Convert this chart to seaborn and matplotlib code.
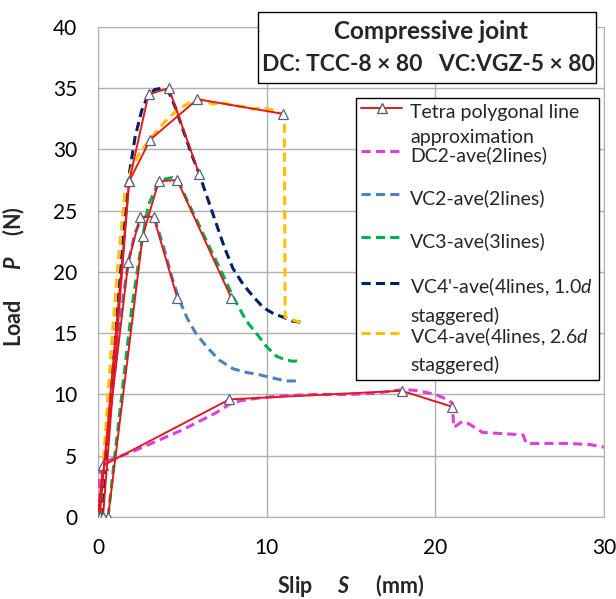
import pandas as pd
import matplotlib.pyplot as plt
import seaborn as sns
from matplotlib.lines import Line2D
from matplotlib.patches import Rectangle

# averaged load-slip curves (slip mm, load N)
dc2_s = [0, 0.05, 0.1, 0.3, 0.6, 1.0, 2.0, 3.0, 4.0, 5.0, 6.0, 7.0, 7.8, 8.5, 9.5, 11.0,
         13.0, 15.0, 16.5, 17.5, 18.2, 19.0, 20.0, 20.7, 21.0, 21.1, 21.6, 22.0, 22.8,
         24.0, 25.2, 25.4, 26.5, 28.0, 29.2, 30.0]
dc2_p = [0, 2.0, 3.5, 4.2, 4.6, 4.8, 5.3, 5.9, 6.5, 7.1, 7.8, 8.5, 9.2, 9.5, 9.7, 9.9,
         10.0, 10.0, 10.1, 10.3, 10.4, 10.3, 10.0, 9.6, 9.3, 7.3, 7.8, 7.6, 6.9,
         6.8, 6.7, 6.0, 6.0, 6.0, 5.9, 5.7]

vc2_s = [0, 0.5, 1.0, 1.5, 1.8, 2.2, 2.6, 3.0, 3.4, 3.9, 4.4, 4.8, 5.3, 5.8, 6.5, 7.2,
         8.0, 8.8, 9.6, 10.5, 11.2, 12.0]
vc2_p = [0, 6.0, 12.0, 18.0, 20.8, 23.2, 24.4, 24.6, 24.2, 22.0, 19.5, 17.8, 16.2, 15.0,
         13.8, 12.8, 12.1, 11.8, 11.6, 11.3, 11.1, 11.1]

vc3_s = [0.6, 1.0, 1.5, 2.0, 2.6, 3.0, 3.5, 4.0, 4.4, 4.8, 5.3, 6.0, 6.8, 7.5, 8.0, 8.8,
         9.5, 10.0, 10.6, 11.2, 11.6, 12.0]
vc3_p = [0, 5.0, 11.0, 17.0, 22.5, 25.5, 27.0, 27.6, 27.7, 27.3, 25.8, 23.8, 21.5, 19.5,
         18.0, 16.0, 14.8, 13.9, 13.1, 12.8, 12.7, 12.8]

vc4d_s = [0.2, 0.6, 1.0, 1.4, 1.8, 2.2, 2.6, 3.0, 3.4, 3.8, 4.2, 4.6, 5.0, 5.5, 6.0, 6.5,
          7.0, 7.5, 8.0, 8.6, 9.2, 9.8, 10.4, 11.0, 11.5, 12.0]
vc4d_p = [0, 7.0, 14.0, 21.0, 27.5, 31.0, 33.2, 34.5, 34.9, 35.0, 34.7, 33.4, 31.8, 29.8,
          28.0, 26.0, 24.0, 22.0, 20.3, 19.0, 18.0, 17.1, 16.6, 16.3, 16.0, 15.9]

vc4_s = [0.1, 0.4, 0.8, 1.2, 1.6, 2.0, 2.5, 3.1, 3.6, 4.2, 4.8, 5.4, 5.9, 6.3, 6.8, 7.4,
         8.0, 8.6, 9.2, 9.8, 10.4, 10.9, 11.05, 11.1, 11.5, 12.0]
vc4_p = [0, 6.0, 14.0, 21.0, 26.5, 28.5, 29.8, 30.8, 31.7, 32.6, 33.3, 33.8, 34.1, 34.0,
         33.7, 33.8, 33.6, 33.5, 33.3, 33.4, 33.2, 32.9, 32.5, 16.3, 16.1, 15.9]

# tetra polygonal line approximation (vertices)
tetra = {
    "DC2": ([0, 0.3, 7.8, 18.0, 21.0], [0, 4.2, 9.6, 10.3, 9.0]),
    "VC2": ([0, 1.8, 2.5, 3.3, 4.7], [0, 20.8, 24.5, 24.5, 17.9]),
    "VC3": ([0.6, 2.65, 3.6, 4.7, 7.9], [0, 22.9, 27.4, 27.5, 17.9]),
    "VC4'": ([0.3, 1.85, 3.0, 4.2, 6.0], [0, 27.4, 34.5, 35.0, 28.0]),
    "VC4": ([0.1, 1.85, 3.1, 5.9, 11.0], [0, 27.4, 30.8, 34.1, 32.9]),
}

series = ["DC2", "VC2", "VC3", "VC4'", "VC4"]
curves = {
    "DC2": (dc2_s, dc2_p),
    "VC2": (vc2_s, vc2_p),
    "VC3": (vc3_s, vc3_p),
    "VC4'": (vc4d_s, vc4d_p),
    "VC4": (vc4_s, vc4_p),
}
colors = {"DC2": "#dd3fdd", "VC2": "#4f81bd", "VC3": "#00b050",
          "VC4'": "#002060", "VC4": "#ffc000"}
labels = [
    "Tetra polygonal line\napproximation",
    "DC2-ave(2lines)\n",
    "VC2-ave(2lines)\n",
    "VC3-ave(3lines)\n",
    "VC4'-ave(4lines, 1.0$\\mathit{d}$\nstaggered)",
    "VC4-ave(4lines, 2.6$\\mathit{d}$\nstaggered)",
]

x_ticks = [0, 10, 20, 30]
y_ticks = [0, 5, 10, 15, 20, 25, 30, 35, 40]


def long_frame(data):
    """Stack a dict of (s, p) lists into one tidy DataFrame."""
    frames = []
    for name, (s, p) in data.items():
        frames.append(pd.DataFrame({"series": name, "s": s, "p": p}))
    return pd.concat(frames, ignore_index=True)


curve_df = long_frame(curves)
tetra_df = long_frame(tetra)

sns.set_style("white")
plt.rcParams["font.family"] = ["Lato", "DejaVu Sans"]
plt.rcParams["mathtext.fontset"] = "custom"
plt.rcParams["mathtext.rm"] = "Lato"
plt.rcParams["mathtext.it"] = "Lato:italic"
plt.rcParams["mathtext.bf"] = "Lato:bold"
plt.rcParams["mathtext.bfit"] = "Lato:italic:bold"

red = "#e31a1c"
tri_edge = "#56627a"
dash = (0, (3, 1.7))

fig = plt.figure(figsize=(6.16, 5.99), dpi=100)
ax = fig.add_axes([0.159, 0.137, 0.8214, 0.818])

# dashed average curves
sns.lineplot(data=curve_df, x="s", y="p", hue="series", hue_order=series,
             palette=colors, estimator=None, sort=False, linestyle=dash,
             linewidth=2.2, legend=False, ax=ax, zorder=3)

# red polygonal approximation with open triangles
sns.lineplot(data=tetra_df, x="s", y="p", units="series", estimator=None,
             sort=False, color=red, linewidth=1.4, marker="^", markersize=7,
             markerfacecolor="white", markeredgecolor=tri_edge,
             markeredgewidth=0.9, legend=False, ax=ax, zorder=4)

ax.set_xlim(0, 30)
ax.set_ylim(0, 40)
ax.set_xticks(x_ticks)
ax.set_yticks(y_ticks)
ax.grid(True, color="#b0b0b0", linewidth=1)
ax.set_axisbelow(True)
for sp in ax.spines.values():
    sp.set_color("#b0b0b0")
ax.tick_params(axis="both", direction="out", length=6, color="#b0b0b0",
               labelsize=15, labelcolor="black")
ax.tick_params(axis="x", pad=9)
ax.tick_params(axis="y", pad=9)

ax.set_xlabel("Slip     $\\mathbfit{S}$     (mm)", fontsize=15.5, fontweight="bold")
ax.set_ylabel("Load      $\\mathbfit{P}$    (N)", fontsize=15.5, fontweight="bold")
ax.xaxis.set_label_coords(0.5, -0.112)
ax.yaxis.set_label_coords(-0.14, 0.49)

# legend
handles = [Line2D([], [], color=red, linewidth=1.4, marker="^", markersize=7,
                  markerfacecolor="white", markeredgecolor=tri_edge)]
handles += [Line2D([], [], color=colors[k], linewidth=2.2, linestyle=dash)
            for k in series]
leg = ax.legend(handles, labels, loc="upper right", bbox_to_anchor=(0.99, 0.855),
                borderaxespad=0, fancybox=False, edgecolor="black", framealpha=1,
                fontsize=14, labelspacing=0.03, handlelength=2.1,
                handletextpad=0.4, borderpad=0.3)
leg.get_frame().set_linewidth(1.0)
leg.set_zorder(10)
for t in leg.get_texts():
    t.set_linespacing(1.55)
# Excel puts the key next to the first line of each label
for h in leg.legend_handles:
    h.set_ydata(h.get_ydata() + 12.3)

# title box
fig.add_artist(Rectangle((0.419, 0.861), 0.5485, 0.119, transform=fig.transFigure,
                         facecolor="white", edgecolor="black", linewidth=1, zorder=5))
fig.text(0.700, 0.9466, "Compressive joint", ha="center", va="center",
         fontsize=17.5, fontweight="bold", zorder=6)
fig.text(0.696, 0.8915, "DC: TCC-8 × 80   VC:VGZ-5 × 80", ha="center", va="center",
         fontsize=16.5, fontweight="bold", zorder=6)

fig.savefig("out.png", dpi=100)
